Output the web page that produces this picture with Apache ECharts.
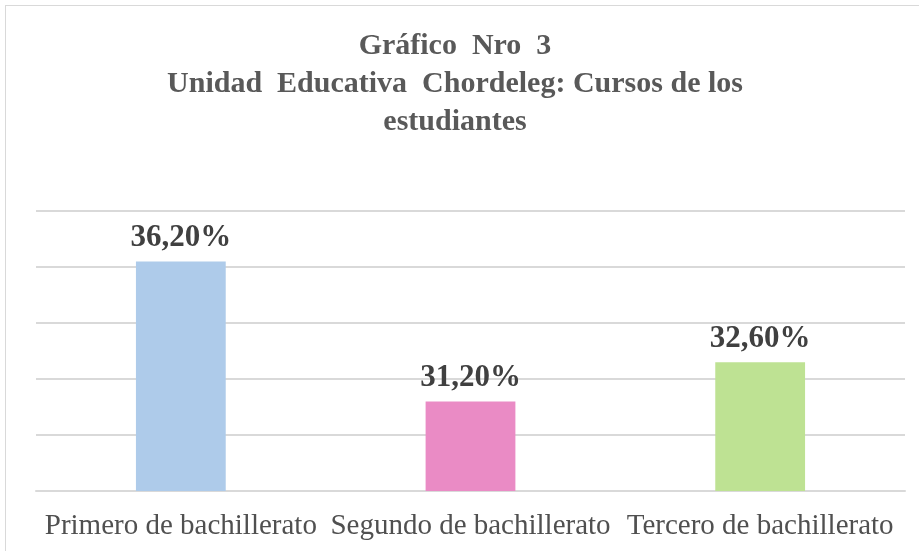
<!DOCTYPE html>
<html>
<head>
<meta charset="utf-8">
<script src="https://cdn.jsdelivr.net/npm/echarts@6/dist/echarts.min.js"></script>
<style>
  html, body { margin: 0; padding: 0; background: #fff; overflow: hidden; }
  #frame {
    position: absolute; left: 5px; top: 5px; width: 940px; height: 560px;
    border: 1px solid #d9d9d9; box-sizing: border-box;
  }
  #chart { position: absolute; left: 0; top: 0; width: 919px; height: 551px; }
</style>
</head>
<body>
<div id="frame"></div>
<div id="chart"></div>
<script>
const categories = ['Primero de bachillerato', 'Segundo de bachillerato', 'Tercero de bachillerato']
const values = [36.2, 31.2, 32.6]
const barColors = ['#aecbea', '#ea8bc5', '#bee293']

const chart = echarts.init(document.getElementById('chart'))
const serif = 'Liberation Serif, Times New Roman, serif'

chart.setOption({
  animation: false,
  title: {
    text: 'Gráfico  Nro  3\nUnidad  Educativa  Chordeleg: Cursos de los\nestudiantes',
    left: 450,
    top: 22,
    textAlign: 'center',
    textStyle: {
      fontFamily: serif,
      fontWeight: 'bold',
      fontSize: 30,
      lineHeight: 38,
      color: '#595959'
    }
  },
  grid: { left: 36, right: 14, top: 211, bottom: 60 },
  xAxis: {
    type: 'category',
    data: categories,
    axisLine: { lineStyle: { color: '#d9d9d9', width: 2 } },
    axisTick: { show: false },
    axisLabel: {
      interval: 0,
      margin: 21,
      fontFamily: serif,
      fontSize: 29,
      color: '#505050'
    }
  },
  yAxis: {
    type: 'value',
    min: 28,
    max: 38,
    interval: 2,
    axisLabel: { show: false },
    axisLine: { show: false },
    axisTick: { show: false },
    splitLine: { lineStyle: { color: '#d9d9d9', width: 2 } }
  },
  series: [
    {
      type: 'bar',
      barWidth: '31%',
      data: values.map((v, i) => ({ value: v, itemStyle: { color: barColors[i] } })),
      label: {
        show: true,
        position: 'top',
        distance: 8,
        formatter: p => p.value.toFixed(2).replace('.', ',') + '%',
        fontFamily: serif,
        fontWeight: 'bold',
        fontSize: 31,
        color: '#404040'
      }
    }
  ]
})
</script>
</body>
</html>
